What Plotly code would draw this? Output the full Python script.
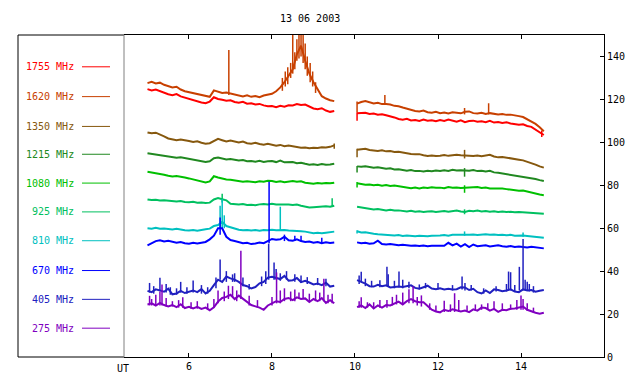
import plotly.graph_objects as go

# time grids (UT hours)
t1 = [round(5.0 + 0.1 * i, 2) for i in range(46)]      # 5.0 .. 9.5
t2 = [round(10.05 + 0.1 * i, 2) for i in range(46)]    # 10.05 .. 14.55

labels = ["1755 MHz", "1620 MHz", "1350 MHz", "1215 MHz", "1080 MHz",
          "925 MHz", "810 MHz", "670 MHz", "405 MHz", "275 MHz"]
colors = ["#ff0000", "#c84000", "#86580e", "#208820", "#00c000",
          "#00c060", "#00c0c0", "#0000ff", "#2020c0", "#8000c0"]

f1755_a = [124.8,124.2,124.6,123.8,123.2,122.4,122.0,122.5,121.4,120.8,120.2,119.8,119.0,118.6,118.2,119.0,121.0,120.2,119.8,119.4,119.6,118.8,118.4,118.9,118.0,118.2,117.6,117.9,117.2,116.8,116.9,116.4,117.0,116.6,117.3,117.2,117.8,117.4,117.6,116.5,115.8,115.4,115.9,114.8,114.2,114.6]
f1755_b = [113.6,113.6,113.8,113.2,113.4,112.9,113.1,112.6,112.2,111.6,110.9,110.5,111.0,110.2,110.4,110.0,110.6,110.1,110.3,109.8,110.4,110.0,110.6,110.2,109.6,110.3,109.4,109.9,110.1,109.6,109.8,109.4,110.0,109.2,109.5,109.0,109.3,108.8,108.6,108.2,108.4,107.6,107.2,106.0,104.6,103.4]

f1620_a = [127.6,128.2,127.4,127.8,126.8,126.2,125.6,125.9,124.6,123.8,123.4,122.9,122.4,122.0,121.6,121.2,124.2,123.6,123.0,123.2,122.8,122.4,121.8,121.4,121.9,121.2,121.6,121.0,121.8,122.2,122.6,123.8,125.6,128.0,131.0,134.0,141.0,145.0,138.0,132.0,128.0,124.5,121.5,120.4,119.6,119.2]
f1620_b = [118.0,118.8,119.2,118.6,118.1,118.4,117.8,117.8,117.6,117.0,116.8,116.2,115.6,115.0,114.6,114.4,114.8,114.0,113.8,114.2,113.6,113.9,113.4,114.0,113.7,113.5,114.2,114.4,113.6,113.4,113.8,113.2,113.6,113.4,113.0,113.2,112.8,112.9,112.4,112.2,111.8,110.8,109.8,108.6,107.0,105.2]

f1350_a = [104.6,104.2,104.5,103.8,102.8,101.8,101.4,101.0,101.3,100.8,100.6,100.2,100.5,99.8,99.4,99.6,100.6,101.6,101.0,100.4,100.8,100.2,99.9,100.4,99.6,99.4,99.8,99.2,98.9,99.3,98.7,98.4,98.8,98.2,98.5,98.2,98.0,97.5,97.6,97.3,97.5,97.4,97.7,97.6,97.9,98.6]
f1350_b = [96.5,96.8,97.0,96.4,96.2,96.0,96.3,95.8,95.9,95.5,95.6,95.2,95.0,94.6,94.4,94.5,94.0,93.6,93.9,93.6,93.8,94.1,93.7,94.0,94.2,94.0,94.0,93.8,93.6,93.9,93.5,93.8,94.2,93.4,93.0,93.2,92.8,92.6,92.3,91.9,91.6,91.0,90.4,89.6,88.8,88.2]

f1215_a = [94.9,94.6,94.2,94.0,93.6,93.4,93.1,92.8,93.0,92.6,92.4,91.9,91.6,91.2,90.9,91.2,92.6,92.9,92.4,92.0,92.2,91.7,91.5,91.8,91.2,91.3,91.0,91.4,90.9,91.2,91.3,90.8,91.5,90.7,90.6,90.8,90.3,90.5,90.0,89.6,89.8,89.5,89.9,89.6,89.7,90.0]
f1215_b = [88.8,88.6,88.9,88.4,88.2,88.4,88.0,87.7,87.9,87.4,87.5,87.0,86.8,87.1,86.6,86.7,86.4,86.8,86.5,86.9,86.6,87.0,86.7,87.2,86.9,87.0,86.9,86.8,87.1,86.6,86.8,86.4,86.7,86.0,85.8,85.5,85.2,85.0,84.6,84.4,84.1,83.6,83.4,82.9,82.4,82.0]

f1080_a = [86.3,86.0,85.6,85.2,84.9,84.4,84.1,84.3,83.8,83.6,83.2,82.8,82.4,81.8,81.3,81.8,84.2,83.6,83.0,82.7,82.6,82.2,82.0,81.6,81.9,81.8,81.4,81.9,81.6,82.1,82.0,81.5,81.9,81.4,81.8,82.0,81.6,81.9,81.2,80.8,80.7,81.0,80.8,81.1,80.9,81.2]
f1080_b = [80.9,80.6,80.2,80.4,80.0,80.2,79.8,80.1,79.7,79.9,79.5,79.2,78.8,78.6,78.9,78.5,79.0,78.7,79.1,78.8,78.9,78.6,79.2,78.8,79.0,78.7,78.8,79.0,78.9,79.2,78.7,79.0,78.5,78.6,78.4,78.5,78.2,77.9,77.6,77.4,77.5,77.0,76.6,76.2,75.7,75.4]

f925_a = [73.4,73.1,73.3,72.9,73.0,72.8,72.6,72.4,72.7,72.2,72.1,72.3,71.9,72.0,71.7,71.9,73.4,74.0,73.5,73.0,71.4,71.2,71.0,71.3,70.8,70.9,70.7,71.1,71.3,71.0,71.4,71.0,71.1,71.2,71.0,70.8,71.0,70.5,70.0,69.7,69.8,70.0,69.9,70.2,70.0,70.5]
f925_b = [70.0,69.6,69.2,68.9,68.7,68.9,68.5,68.3,68.6,68.2,68.3,68.0,67.8,68.1,67.7,67.9,67.6,67.8,67.9,67.6,67.8,68.0,67.7,67.9,68.2,67.8,67.6,68.1,67.9,68.2,67.8,68.0,67.7,67.9,67.6,67.8,67.5,67.7,67.4,67.6,67.4,67.2,67.3,67.0,66.8,66.7]

f810_a = [60.0,59.8,60.2,59.7,59.9,59.6,59.4,59.7,59.2,59.0,58.9,59.2,58.8,59.3,59.5,59.8,61.0,61.5,63.0,61.0,60.4,59.6,59.3,59.0,59.2,58.9,59.1,58.8,59.2,59.0,59.3,59.0,59.2,59.2,58.9,58.8,59.0,58.6,58.4,58.0,57.7,57.9,57.6,57.9,58.2,58.4]
f810_b = [58.6,58.0,58.1,57.6,57.4,57.2,57.0,57.1,56.8,56.6,56.8,56.4,56.6,56.3,56.2,56.5,56.3,56.2,56.5,56.4,56.6,56.8,56.5,56.9,57.0,56.8,57.0,56.9,57.1,56.8,57.0,57.2,56.9,57.1,56.8,57.0,56.7,56.9,56.5,56.7,56.6,56.4,56.2,55.8,55.6,55.5]

f670_a = [52.0,53.2,54.0,54.4,53.8,54.1,53.5,53.2,53.6,53.0,52.8,53.2,52.9,53.4,53.6,54.8,56.5,60.0,60.0,56.0,54.5,54.0,53.4,53.0,53.2,52.6,52.9,53.3,53.0,54.0,55.0,54.6,54.8,56.0,54.4,54.2,54.8,54.0,53.6,53.8,53.2,53.6,53.0,53.4,53.1,53.3]
f670_b = [53.4,53.0,53.2,52.8,53.0,54.2,52.6,52.4,52.6,52.2,52.1,52.3,52.0,51.8,51.9,51.7,51.9,51.6,51.8,51.7,51.9,51.8,53.2,52.0,52.8,51.4,52.6,51.2,52.4,51.6,51.8,52.0,51.5,51.8,52.0,51.6,51.4,51.7,51.2,51.5,51.3,51.0,51.4,51.1,51.0,50.6]

f405_a = [30.8,30.2,31.5,31.0,30.4,31.8,29.2,29.6,30.8,29.8,30.4,31.0,30.2,31.6,29.6,30.8,33.5,36.0,35.0,37.5,36.6,36.0,35.0,33.5,33.0,31.9,32.6,34.3,35.0,37.0,37.4,37.0,36.3,37.8,35.6,35.8,36.8,34.9,35.5,34.7,33.8,34.2,33.5,34.6,32.8,33.2]
f405_b = [35.8,35.0,34.2,33.0,32.8,33.6,33.0,33.4,32.4,32.6,32.8,32.6,33.0,33.4,32.2,31.8,32.5,33.2,31.9,31.6,32.0,31.5,31.8,31.4,31.6,32.5,32.4,31.2,31.8,30.2,29.6,31.0,29.8,31.5,31.2,30.6,31.0,31.5,30.5,30.2,31.5,31.0,31.2,30.4,30.9,31.2]

f275_a = [24.5,25.0,24.0,25.2,24.2,23.5,24.2,23.2,24.6,22.8,23.4,22.6,23.4,22.4,23.0,21.8,23.2,25.8,27.5,28.0,29.0,27.0,28.6,27.0,25.5,24.2,23.6,23.0,22.0,24.0,25.0,26.0,25.6,27.0,27.5,26.5,27.8,27.0,27.3,25.6,27.0,26.0,27.4,25.2,26.5,25.0]
f275_b = [23.2,24.0,22.8,24.5,22.6,24.0,23.0,24.2,24.0,25.0,25.8,24.5,26.0,27.0,26.0,25.5,25.5,23.8,22.0,21.2,20.8,22.0,21.4,22.2,21.8,21.2,21.6,20.9,22.2,21.6,23.0,22.8,21.6,22.4,21.0,22.0,21.8,22.5,22.6,23.0,23.5,22.0,21.2,20.6,20.2,20.6]

# short bursts / spikes: (time, low, high)
spk1755 = [(10.05, 110.0, 114.0), (14.5, 102.5, 105.5)]
spk1620 = [(6.96, 122.0, 143.0), (8.25, 124.0, 130.0), (8.32, 126.0, 133.0),
           (8.38, 127.0, 135.0), (8.45, 130.0, 137.0), (8.5, 132.0, 150.0),
           (8.55, 134.0, 142.0), (8.6, 138.0, 148.0), (8.65, 139.0, 150.0),
           (8.7, 140.0, 150.0), (8.75, 137.0, 150.0), (8.8, 134.0, 146.0),
           (8.85, 131.0, 140.0), (8.92, 128.0, 137.0), (8.98, 126.0, 133.0),
           (9.05, 123.0, 128.0), (10.72, 117.5, 122.0), (12.64, 113.0, 116.0),
           (13.22, 113.0, 118.2), (10.05, 114.0, 119.0)]
spk1350 = [(12.64, 92.5, 96.5), (10.05, 93.0, 97.0), (9.5, 97.0, 99.5)]
spk1215 = [(12.64, 84.0, 88.0), (10.05, 86.0, 89.0)]
spk1080 = [(12.64, 76.5, 80.0), (10.05, 79.0, 81.5)]
spk925 = [(6.8, 72.0, 76.0), (9.45, 70.0, 74.0), (12.64, 66.5, 68.8)]
spk810 = [(6.75, 60.0, 70.5), (6.8, 60.0, 73.6), (6.85, 60.0, 66.0), (8.2, 59.0, 70.0),
          (12.64, 56.5, 58.5), (14.05, 56.0, 58.0), (10.05, 57.5, 59.0)]
spk670 = [(6.75, 57.0, 65.0), (7.93, 53.0, 81.6), (8.3, 54.0, 57.0), (8.55, 54.0, 56.5),
          (8.7, 53.8, 56.5), (9.2, 53.0, 55.5)]
spk405 = [(5.05, 30.0, 34.5), (5.15, 29.5, 33.0), (5.3, 31.0, 36.9), (5.45, 30.0, 34.0),
          (5.55, 29.0, 32.5), (5.7, 29.0, 32.0), (5.8, 30.0, 35.0), (5.95, 29.5, 32.5),
          (6.1, 30.0, 35.6), (6.3, 29.5, 33.5), (6.45, 29.5, 32.5), (6.65, 32.0, 37.0),
          (6.75, 36.0, 45.4), (6.9, 35.0, 40.0), (7.05, 35.0, 38.5), (7.1, 35.0, 39.0),
          (7.3, 33.0, 37.0), (7.45, 31.5, 34.0), (7.75, 33.0, 37.5), (7.85, 34.0, 40.0),
          (7.92, 36.0, 52.8), (8.05, 36.0, 44.0), (8.1, 36.0, 41.0), (8.2, 35.5, 39.0),
          (8.35, 36.0, 40.0), (8.55, 35.0, 38.5), (8.7, 34.5, 38.0), (8.85, 34.0, 37.2),
          (9.1, 33.5, 36.8), (9.3, 33.0, 36.5),
          (10.1, 34.0, 38.0), (10.15, 35.0, 39.7), (10.25, 33.0, 36.5), (10.4, 32.5, 35.5),
          (10.6, 32.5, 35.8), (10.77, 33.0, 42.0), (10.8, 33.0, 38.5), (10.95, 32.0, 35.5),
          (11.06, 32.5, 39.8), (11.15, 32.0, 36.0), (11.3, 32.0, 35.0), (11.55, 31.5, 33.8),
          (11.7, 32.0, 34.5), (12.0, 31.5, 34.5), (12.35, 31.0, 33.5), (12.58, 31.5, 37.5),
          (12.65, 31.0, 34.5), (12.8, 31.0, 33.5), (13.1, 29.5, 32.0), (13.4, 30.5, 33.0),
          (13.65, 30.5, 34.0), (13.7, 31.0, 39.8), (13.75, 31.0, 39.5), (13.85, 30.5, 33.5),
          (13.96, 31.0, 42.0), (14.05, 31.0, 55.0), (14.1, 31.0, 36.0), (14.15, 31.0, 35.0),
          (14.2, 30.5, 34.0), (14.3, 30.0, 33.0)]
spk275 = [(5.05, 24.0, 28.5), (5.1, 24.0, 27.0), (5.2, 24.0, 29.0), (5.3, 24.0, 30.5),
          (5.35, 24.0, 33.8), (5.45, 23.5, 27.5), (5.6, 23.5, 26.0), (5.75, 23.0, 26.5),
          (5.85, 23.0, 27.8), (6.05, 22.5, 25.5), (6.2, 22.5, 26.0), (6.45, 22.0, 25.0),
          (6.6, 23.0, 27.0), (6.7, 25.0, 31.0), (6.85, 26.0, 30.5), (6.95, 27.0, 33.2),
          (7.05, 28.0, 33.0), (7.15, 26.0, 31.0), (7.25, 27.0, 49.5), (7.45, 24.0, 28.5),
          (7.65, 23.0, 26.5), (8.0, 24.0, 28.0), (8.11, 25.0, 39.4), (8.2, 25.0, 31.0),
          (8.3, 26.0, 32.0), (8.45, 26.0, 30.5), (8.55, 26.0, 31.5), (8.65, 27.0, 30.0),
          (8.75, 27.0, 31.7), (8.9, 26.0, 29.5), (9.05, 26.0, 31.0), (9.15, 26.0, 30.0),
          (9.25, 26.0, 36.5), (9.35, 25.0, 29.0), (9.45, 25.0, 29.5),
          (10.1, 23.0, 26.0), (10.15, 23.0, 27.8), (10.3, 23.0, 25.5), (10.45, 22.5, 25.5),
          (10.6, 23.0, 26.5), (10.77, 23.0, 26.5), (10.9, 24.0, 28.0), (11.0, 24.5, 29.0),
          (11.15, 24.5, 30.0), (11.3, 25.0, 31.6), (11.4, 25.0, 33.0), (11.5, 24.0, 28.0),
          (11.6, 23.5, 28.7), (11.8, 22.0, 25.0), (11.95, 21.0, 24.0), (12.15, 21.0, 26.2),
          (12.3, 21.0, 24.5), (12.4, 21.0, 29.7), (12.5, 21.0, 26.5), (12.7, 21.0, 24.0),
          (12.9, 21.5, 24.5), (13.05, 22.0, 24.5), (13.2, 22.0, 25.0), (13.35, 22.0, 26.0),
          (13.55, 21.5, 25.0), (13.75, 22.0, 24.5), (13.9, 22.0, 26.5), (14.0, 22.0, 28.7),
          (14.05, 22.0, 27.0), (14.15, 21.5, 25.0), (14.3, 20.5, 23.0)]

series_a = [f1755_a, f1620_a, f1350_a, f1215_a, f1080_a, f925_a, f810_a, f670_a, f405_a, f275_a]
series_b = [f1755_b, f1620_b, f1350_b, f1215_b, f1080_b, f925_b, f810_b, f670_b, f405_b, f275_b]
spikes = [spk1755, spk1620, spk1350, spk1215, spk1080, spk925, spk810, spk670, spk405, spk275]

FONT = "DejaVu Sans Mono"

fig = go.Figure()
for lab, col, va, vb, sp in zip(labels, colors, series_a, series_b, spikes):
    fig.add_trace(go.Scatter(
        x=t1 + [None] + t2, y=va + [None] + vb,
        mode="lines", line=dict(color=col, width=2),
        name=lab, showlegend=False, connectgaps=False, hoverinfo="skip"))
    sx, sy = [], []
    for (t, lo, hi) in sp:
        sx += [t, t, None]
        sy += [lo, hi, None]
    fig.add_trace(go.Scatter(
        x=sx, y=sy, mode="lines", line=dict(color=col, width=1.5),
        showlegend=False, hoverinfo="skip"))

# plot-area geometry: 124..604 px wide (480), 35..359 px tall (324)
W, L, T, H = 480.0, 124.0, 35.0, 324.0
def px(x):
    return (x - L) / W
def py(y):
    return (T + H - y) / H

legend_y = [67, 97, 127, 155, 184, 213, 242, 272, 301, 330]
annotations = []
shapes = []
for lab, col, yy in zip(labels, colors, legend_y):
    annotations.append(dict(x=px(76), y=py(yy), xref="paper", yref="paper", text=lab,
                            showarrow=False, xanchor="right", yanchor="middle",
                            font=dict(family=FONT, size=10, color=col)))
    shapes.append(dict(type="line", xref="paper", yref="paper", x0=px(82), x1=px(110),
                       y0=py(yy), y1=py(yy), line=dict(color=col, width=1)))

# outer legend box + UT divider
shapes.append(dict(type="line", xref="paper", yref="paper", x0=px(18), x1=px(18),
                   y0=0, y1=1, line=dict(color="black", width=1)))
shapes.append(dict(type="line", xref="paper", yref="paper", x0=px(18), x1=0,
                   y0=0, y1=0, line=dict(color="black", width=1)))
shapes.append(dict(type="line", xref="paper", yref="paper", x0=px(18), x1=0,
                   y0=1, y1=1, line=dict(color="black", width=1)))
shapes.append(dict(type="line", xref="paper", yref="paper", x0=0, x1=0,
                   y0=0, y1=1, line=dict(color="#808080", width=1)))

annotations.append(dict(x=px(123), y=py(371), xref="paper", yref="paper", text="UT",
                        showarrow=False, xanchor="center", yanchor="middle",
                        font=dict(family=FONT, size=10, color="black")))
annotations.append(dict(x=px(310), y=py(18), xref="paper", yref="paper", text="13 06 2003",
                        showarrow=False, xanchor="center", yanchor="middle",
                        font=dict(family=FONT, size=10, color="black")))

fig.update_layout(
    width=640, height=384,
    margin=dict(l=124, r=36, t=35, b=25),
    paper_bgcolor="white", plot_bgcolor="white",
    font=dict(family=FONT, size=10, color="black"),
    showlegend=False,
    annotations=annotations, shapes=shapes,
    xaxis=dict(range=[4.434, 16.0], tickvals=[6, 8, 10, 12, 14], ticks="inside", ticklen=4,
               tickcolor="black", showline=True, linecolor="black", linewidth=1,
               mirror="ticks", showgrid=False, zeroline=False,
               tickfont=dict(family=FONT, size=10)),
    yaxis=dict(range=[0, 150], tickvals=[0, 20, 40, 60, 80, 100, 120, 140], side="right",
               ticks="inside", ticklen=4, tickcolor="black", showline=True,
               linecolor="black", linewidth=1, showgrid=False, zeroline=False,
               tickfont=dict(family=FONT, size=10)),
)

fig.write_html("out.html", config={"displayModeBar": False},
               post_script="document.body.style.margin='0';")
